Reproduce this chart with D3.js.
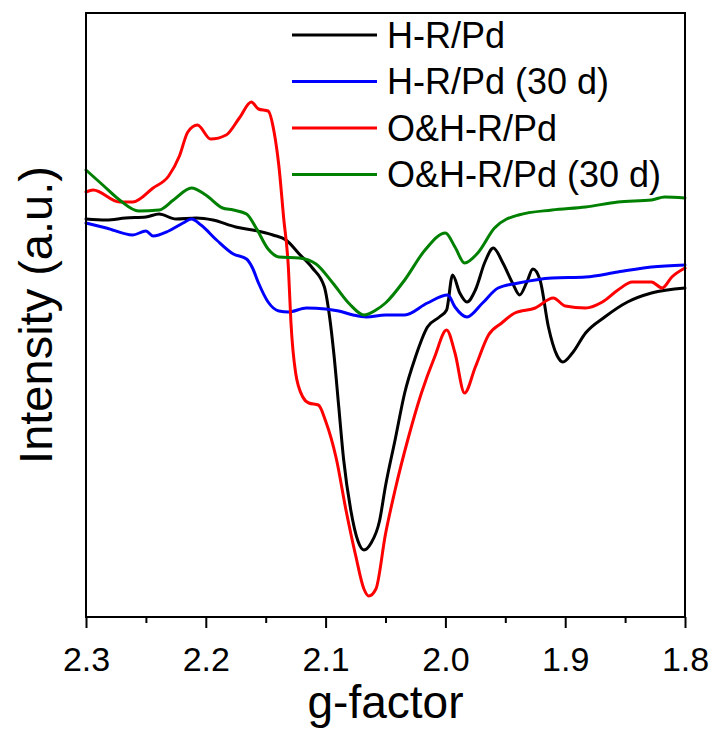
<!DOCTYPE html>
<html lang="en">
<head>
    <meta charset="UTF-8">
    <title>EPR g-factor</title>
    <script src="https://d3js.org/d3.v7.min.js"></script>
    <style>
        body {
            margin: 0;
            padding: 0;
            background: #fff;
            font-family: Arial, "Liberation Sans", sans-serif;
        }
        .curve {
            fill: none;
            stroke-width: 3;
            stroke-linejoin: round;
            stroke-linecap: round;
        }
        .frame {
            fill: none;
            stroke: #000;
            stroke-width: 2;
        }
    </style>
</head>
<body>
    <div id="chart"></div>
    <script>
        // g-factor / intensity (a.u.) pairs
        const gBlack = [2.300, 2.283, 2.267, 2.250, 2.239, 2.225, 2.208, 2.194, 2.175, 2.161, 2.144, 2.133, 2.122, 2.111, 2.101, 2.097, 2.093, 2.089, 2.085, 2.079, 2.073, 2.068, 2.062, 2.055, 2.050, 2.042, 2.034, 2.025, 2.015, 2.005, 1.999, 1.994, 1.988, 1.982, 1.975, 1.967, 1.960, 1.952, 1.944, 1.938, 1.932, 1.927, 1.921, 1.914, 1.907, 1.902, 1.894, 1.883, 1.867, 1.848, 1.828, 1.800];
        const iBlack = [398, 397, 399, 400, 403, 398, 399, 397, 390, 387, 382, 377, 363, 349, 330, 303, 262, 210, 158, 107, 76, 67, 74, 96, 131, 177, 224, 260, 290, 300, 307, 342, 324, 315, 327, 355, 369, 354, 334, 322, 335, 348, 337, 290, 262, 255, 264, 284, 300, 315, 324, 329];

        const gBlue = [2.300, 2.283, 2.261, 2.250, 2.244, 2.231, 2.219, 2.212, 2.204, 2.191, 2.177, 2.166, 2.161, 2.156, 2.148, 2.139, 2.131, 2.116, 2.100, 2.089, 2.077, 2.066, 2.050, 2.034, 2.015, 1.998, 1.992, 1.982, 1.969, 1.956, 1.939, 1.911, 1.883, 1.856, 1.828, 1.800];
        const iBlue = [394, 389, 382, 386, 381, 386, 394, 398, 392, 377, 363, 358, 349, 334, 315, 306, 305, 309, 308, 306, 302, 300, 302, 302, 314, 322, 310, 300, 314, 329, 334, 339, 340, 345, 350, 352];

        const gRed = [2.300, 2.294, 2.272, 2.261, 2.244, 2.231, 2.222, 2.215, 2.207, 2.196, 2.183, 2.172, 2.162, 2.156, 2.148, 2.143, 2.139, 2.135, 2.131, 2.129, 2.125, 2.119, 2.114, 2.106, 2.100, 2.091, 2.083, 2.075, 2.068, 2.064, 2.058, 2.050, 2.042, 2.031, 2.020, 2.009, 1.999, 1.992, 1.984, 1.975, 1.964, 1.953, 1.942, 1.925, 1.910, 1.900, 1.883, 1.869, 1.856, 1.844, 1.828, 1.819, 1.811, 1.800];
        const iRed = [425, 427, 415, 415, 429, 441, 461, 485, 492, 478, 482, 499, 515, 508, 506, 485, 451, 399, 348, 296, 244, 220, 214, 212, 196, 158, 107, 62, 28, 21, 28, 83, 127, 179, 224, 260, 287, 264, 224, 250, 282, 294, 304, 309, 319, 311, 309, 315, 327, 335, 335, 329, 340, 349];

        const gGreen = [2.300, 2.286, 2.272, 2.256, 2.239, 2.227, 2.212, 2.200, 2.186, 2.177, 2.166, 2.158, 2.148, 2.139, 2.122, 2.108, 2.094, 2.080, 2.068, 2.058, 2.050, 2.034, 2.017, 2.000, 1.992, 1.984, 1.973, 1.959, 1.939, 1.911, 1.883, 1.856, 1.828, 1.817, 1.800];
        const iGreen = [447, 432, 417, 406, 407, 417, 429, 422, 409, 407, 403, 389, 368, 360, 359, 353, 334, 313, 302, 307, 314, 337, 367, 384, 370, 354, 364, 389, 402, 407, 410, 415, 417, 420, 419];

        const seriesNames = ["H-R/Pd", "H-R/Pd (30 d)", "O&H-R/Pd", "O&H-R/Pd (30 d)"];
        const seriesColors = ["#000000", "#0000ff", "#ff0000", "#008000"];
        const xTicks = [2.3, 2.2, 2.1, 2.0, 1.9, 1.8];
        const xMinorTicks = [2.25, 2.15, 2.05, 1.95, 1.85];

        const width = 714, height = 736;
        const margin = { top: 13, right: 29, bottom: 119, left: 86 };
        const innerW = width - margin.left - margin.right;
        const innerH = height - margin.top - margin.bottom;

        const svg = d3.select("#chart")
            .append("svg")
            .attr("width", width)
            .attr("height", height);

        const g = svg.append("g")
            .attr("transform", `translate(${margin.left},${margin.top})`);

        const x = d3.scaleLinear().domain([2.3, 1.8]).range([0, innerW]);
        const y = d3.scaleLinear().domain([0, 604]).range([innerH, 0]);

        const series = [
            { g: gBlack, v: iBlack },
            { g: gBlue, v: iBlue },
            { g: gRed, v: iRed },
            { g: gGreen, v: iGreen }
        ].map((s, k) => ({
            name: seriesNames[k],
            color: seriesColors[k],
            points: s.g.map((gv, i) => ({ g: gv, v: s.v[i] }))
        }));

        const line = d3.line()
            .x(d => x(d.g))
            .y(d => y(d.v))
            .curve(d3.curveMonotoneX);

        g.selectAll(".curve")
            .data(series)
            .enter().append("path")
            .attr("class", "curve")
            .attr("stroke", d => d.color)
            .attr("d", d => line(d.points));

        // bottom axis: major ticks with labels, minor ticks without
        const xAxis = g.append("g")
            .attr("transform", `translate(0,${innerH})`)
            .call(d3.axisBottom(x).tickValues(xTicks).tickSize(11).tickPadding(19)
                .tickFormat(d3.format(".1f")));
        xAxis.select(".domain").remove();
        xAxis.selectAll("line").attr("stroke-width", 2);
        xAxis.selectAll("text")
            .attr("font-size", 34)
            .attr("font-family", "Arial, 'Liberation Sans', sans-serif")
            .attr("fill", "#000");

        const xMinor = g.append("g")
            .attr("transform", `translate(0,${innerH})`)
            .call(d3.axisBottom(x).tickValues(xMinorTicks).tickSize(6).tickFormat(""));
        xMinor.select(".domain").remove();
        xMinor.selectAll("line").attr("stroke-width", 2);

        g.append("rect")
            .attr("class", "frame")
            .attr("width", innerW)
            .attr("height", innerH);

        // legend
        const legend = g.append("g")
            .attr("transform", `translate(${292 - margin.left},${35 - margin.top})`);
        const rows = legend.selectAll(".row")
            .data(series)
            .enter().append("g")
            .attr("transform", (d, i) => `translate(0,${i * 46.5})`);
        rows.append("line")
            .attr("x1", 0).attr("x2", 85)
            .attr("stroke", d => d.color)
            .attr("stroke-width", 3);
        rows.append("text")
            .attr("x", 95)
            .attr("dy", "0.36em")
            .attr("font-size", 36)
            .text(d => d.name);

        svg.append("text")
            .attr("x", margin.left + innerW / 2)
            .attr("y", 718)
            .attr("text-anchor", "middle")
            .attr("font-size", 46)
            .text("g-factor");

        svg.append("text")
            .attr("transform", `translate(52,${margin.top + innerH / 2}) rotate(-90)`)
            .attr("text-anchor", "middle")
            .attr("font-size", 47)
            .text("Intensity (a.u.)");
    </script>
</body>
</html>
